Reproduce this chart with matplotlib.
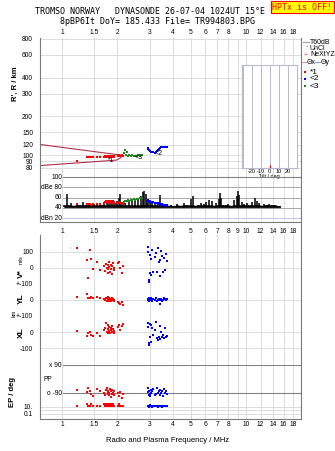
import matplotlib
matplotlib.use('Agg')
import matplotlib.pyplot as plt
from matplotlib.lines import Line2D

plt.rcParams['font.family'] = ['Liberation Sans', 'DejaVu Sans']

# ---- data ----
freq_ticks = [1, 1.5, 2, 3, 4, 5, 6, 7, 8, 9, 10, 12, 14, 16, 18]
freq_labels_outer = ['1', '1.5', '2', '3', '4', '5', '6', '7', '8', '', '10', '12', '14', '16', '18']
freq_labels_mid = ['1', '1.5', '2', '3', '4', '5', '6', '7', '8', '9', '10', '12', '14', '16', '18']
h_ticks = [80, 90, 100, 120, 150, 200, 300, 400, 600, 800]

# reference wedge in the height panel (MHz, km)
wedge_f = [0.76, 2.1, 2.1, 1.98, 0.76]
wedge_h = [121, 100, 96, 91.5, 83]

# echo 1 (red)
red_f = [1.21, 1.36, 1.38, 1.42, 1.44, 1.47, 1.55, 1.60, 1.70, 1.72, 1.74, 1.75, 1.77, 1.78, 1.79,
         1.80, 1.81, 1.83, 1.84, 1.85, 1.86, 1.88, 1.89, 1.91, 1.93, 2.02, 2.05, 2.08, 2.11, 2.14]
red_h = [90, 96, 97, 96, 97, 96, 97, 96, 97, 98, 97, 98, 97, 98, 99,
         97, 98, 96, 98, 99, 97, 98, 99, 98, 97, 99, 100, 98, 101, 99]
red_a = [47, 48, 47, 48, 46, 47, 48, 47, 50, 51, 53, 52, 54, 51, 52,
         53, 50, 51, 52, 53, 51, 50, 52, 51, 49, 50, 51, 49, 50, 48]
red_v = [125, 50, -62, 112, 56, -6, 37, -12, 10, -20, 25, 0, -31, 15, -10,
         5, 37, -25, 20, -5, 12, -37, 30, 0, -15, 31, 37, 0, -31, 12]
red_yl = [19, 37, 12, 12, 19, 12, 19, 12, 6, 0, 12, -6, 19, 0, 6,
          -6, 12, 0, 6, -6, 12, 0, 6, -6, 0, -12, -19, -25, -12, -31]
red_xl = [6, -25, -6, 0, -19, -25, -6, -25, 12, 25, 56, 0, -6, 44, 19,
          31, 6, -6, 25, 12, 0, 37, 19, -6, 6, 31, 44, 12, 37, 50]
red_pp = [-70, -85, -60, -75, -95, -110, -65, -80, -90, -100, -70, -60, -85, -95, -75,
          -105, -90, -65, -80, -115, -95, -70, -88, -100, -78, -92, -110, -85, -120, -95]
red_ep = [20, 60, 18, 20, 55, 22, 18, 15, 60, 20, 55, 15, 20, 60, 25,
          18, 55, 15, 20, 60, 20, 15, 55, 25, 18, 20, 60, 18, 15, 20]

# echo 2 (blue)
blue_f = [2.92, 2.94, 2.96, 2.98, 3.00, 3.02, 3.04, 3.06, 3.08, 3.12, 3.20, 3.25,
          3.30, 3.33, 3.36, 3.40, 3.43, 3.46, 3.50, 3.55, 3.58, 3.62, 3.66, 3.70]
blue_h = [113, 112, 110, 109, 108, 107, 106, 106, 105, 105, 104, 106,
          108, 110, 112, 113, 114, 115, 115, 116, 116, 116, 116, 116]
blue_a = [55, 54, 53, 52, 53, 52, 51, 52, 50, 51, 50, 49,
          50, 48, 49, 47, 48, 46, 47, 45, 46, 45, 44, 45]
blue_v = [131, 100, -75, -87, 81, -31, -44, 56, 112, -25, 69, 94,
          -25, 125, 37, 50, -50, 106, 75, -25, 62, -12, 88, 44]
blue_yl = [6, 0, 12, -6, 6, 0, 12, 0, -6, 6, 0, 12,
           -6, 0, 6, -25, 0, 6, -6, 0, 12, 6, 0, 6]
blue_xl = [56, 31, -69, -81, 50, -31, -62, 44, 25, -19, 12, 62,
           -37, -50, -31, 37, -45, 0, -31, -19, -37, 25, -31, -25]
blue_pp = [-60, -85, -100, -75, -95, -110, -70, -90, -80, -65, -105, -95,
           -60, -88, -75, -100, -70, -92, -80, -110, -65, -90, -78, -95]
blue_ep = [20, 15, 25, 12, 30, 18, 15, 22, 12, 20, 15, 25,
           18, 12, 20, 15, 22, 18, 12, 25, 15, 20, 18, 15]

# echo 3 (green)
green_f = [2.17, 2.20, 2.22, 2.25, 2.28, 2.32, 2.36, 2.40, 2.45, 2.50, 2.55, 2.60, 2.66, 2.72]
green_h = [104, 109, 100, 106, 98, 100, 99, 100, 99, 98, 99, 100, 98, 100]
green_a = [52, 53, 54, 53, 55, 54, 56, 55, 57, 56, 58, 57, 59, 60]

# echo labels in the height panel
label_f = [1.84, 3.35, 2.62]
label_h = [91, 103, 96]
label_txt = ['*1', '<2', '<3']

# total received amplitude (dBe)
black_f = [1.03, 1.06, 1.08, 1.12, 1.15, 1.2, 1.25, 1.3, 1.35, 1.4, 1.45, 1.5, 1.55, 1.6,
           1.65, 1.7, 1.75, 1.8, 1.85, 1.9, 1.95, 2.0, 2.05, 2.08, 2.12, 2.2, 2.3, 2.4,
           2.5, 2.6, 2.7, 2.75, 2.8, 2.85, 2.9, 2.95, 3.0, 3.1, 3.2, 3.3, 3.4, 3.5, 3.6,
           3.7, 3.8, 3.9, 4.0, 4.2, 4.4, 4.6, 4.8, 5.0, 5.15, 5.3, 5.5, 5.7, 5.9, 6.1,
           6.3, 6.5, 6.7, 6.9, 7.1, 7.2, 7.35, 7.5, 7.8, 8.0, 8.3, 8.6, 8.9, 9.05, 9.2,
           9.5, 9.8, 10.1, 10.4, 10.8, 11.2, 11.5, 11.8, 12.2, 12.6, 13.0, 13.4, 13.8,
           14.3, 14.8, 15.3]
black_a = [45, 67, 46, 50, 44, 47, 45, 52, 46, 48, 45, 47, 46, 49,
           45, 48, 50, 47, 52, 55, 50, 53, 60, 66, 52, 50, 54, 56,
           55, 58, 62, 70, 72, 66, 56, 50, 52, 48, 50, 46, 65, 50, 46,
           45, 44, 46, 43, 48, 44, 50, 46, 58, 62, 44, 45, 50, 47, 52,
           56, 54, 44, 50, 58, 68, 60, 46, 45, 47, 44, 56, 62, 72, 64,
           52, 48, 50, 45, 52, 60, 54, 50, 44, 48, 46, 47, 46,
           45, 44, 43]
noise_floor = 41
noise_top = 45

tilt_deg = [0]

# ---- layout helpers (pixel boxes) ----
W, H = 335, 451
grid_c = '#dcdcdc'
spine_c = '#7a7a7a'
f_min, f_max = 0.76, 19.9

fig = plt.figure(figsize=(W / 100, H / 100), dpi=100)


def px_axes(x0, y0, x1, y1):
    ax = fig.add_axes([x0 / W, 1 - y1 / H, (x1 - x0) / W, (y1 - y0) / H])
    ax.patch.set_alpha(0)
    for s in ax.spines.values():
        s.set_visible(False)
    return ax


def fig_line(xs, ys, **kw):
    fig.add_artist(Line2D([v / W for v in xs], [1 - v / H for v in ys], **kw))


def freq_axis(ax, labels=None, where='bottom', pad=2.0):
    ax.set_xscale('log')
    ax.set_xlim(f_min, f_max)
    ax.set_xticks(freq_ticks)
    ax.minorticks_off()
    ax.set_xticklabels(labels if labels else [''] * len(freq_ticks))
    ax.tick_params(axis='x', which='both', length=0, labelsize=4.8, pad=pad,
                   labeltop=(labels is not None and where == 'top'),
                   labelbottom=(labels is not None and where == 'bottom'))
    ax.tick_params(axis='y', which='both', length=0, labelsize=4.8, pad=5)
    ax.grid(axis='x', color=grid_c, lw=0.7)
    ax.set_axisbelow(True)


def dots(ax, f, v, c):
    ax.plot(f, v, 's', color=c, ms=1.7, mew=0, zorder=3)


# ---- height panel ----
ax_h = px_axes(40, 38, 301, 172)
ax_h.set_yscale('log')
freq_axis(ax_h, freq_labels_outer, 'top', pad=1.5)
ax_h.set_ylim(74, 810)
ax_h.set_yticks(h_ticks)
ax_h.set_yticklabels([str(t) for t in h_ticks])
ax_h.minorticks_off()
ax_h.grid(axis='y', color=grid_c, lw=0.7)
ax_h.plot(wedge_f, wedge_h, color='#b0304a', lw=0.8, zorder=2)
dots(ax_h, red_f, red_h, 'red')
dots(ax_h, green_f, green_h, '#1a8c1a')
dots(ax_h, blue_f, blue_h, 'blue')
for f, h, s in zip(label_f, label_h, label_txt):
    ax_h.text(f, h, s, fontsize=5, ha='center', va='center', color='black', zorder=4)
fig.text(15 / W, 1 - 84 / H, "R', R / km", rotation=90, fontsize=5.5,
         fontweight='bold', ha='center', va='center')

# ---- tilt inset ----
ax_t = fig.add_axes([241.7 / W, 1 - 168 / H, (297 - 241.7) / W, (168 - 65) / H])
ax_t.set_facecolor('white')
for s in ax_t.spines.values():
    s.set_color('#b8b8d0')
    s.set_linewidth(0.8)
ax_t.set_xlim(-31, 30)
ax_t.set_ylim(0, 1)
ax_t.set_xticks([-30, -20, -10, 0, 10, 20, 30])
ax_t.set_xticklabels(['', '-20', '-10', '0', '10', '20', ''])
ax_t.set_yticks([])
ax_t.tick_params(axis='x', length=0, labelsize=4, pad=1)
ax_t.grid(axis='x', color='#b8b8d0', lw=0.7)
ax_t.set_xlabel('Tilt / deg', fontsize=4, labelpad=0)
ax_t.vlines(tilt_deg, 0, 0.03, color='red', lw=1)

# ---- amplitude panel ----
ax_db = px_axes(40, 172, 301, 222)
freq_axis(ax_db, freq_labels_mid, 'bottom', pad=4.5)
ax_db.set_ylim(12.2, 109.8)
ax_db.set_yticks([])
x_in = 23 / 261
ax_db.axhline(100, xmin=x_in, color='#808080', lw=0.8)
for v in (80, 60, 40):
    ax_db.axhline(v, xmin=x_in, color='#a8a8a8', lw=0.7)
ax_db.axhline(20, xmin=x_in, color='#c4c4f0', lw=0.8)
ax_db.fill_between(black_f, noise_floor, [min(a, noise_top) for a in black_a],
                   color='black', lw=0.5, zorder=2)
ax_db.vlines(black_f, noise_floor, black_a, color='black', lw=1.1, zorder=2)
dots(ax_db, red_f, red_a, 'red')
dots(ax_db, green_f, green_a, '#1a8c1a')
dots(ax_db, blue_f, blue_a, 'blue')
ytr = ax_db.get_yaxis_transform()
for v, s in [(100, '100'), (80, 'dBe 80'), (60, '60'), (40, '40'), (20, 'dBn 20')]:
    ax_db.text(x_in - 0.004, v, s, transform=ytr, fontsize=4.8, ha='right', va='center')

# ---- drift velocity / location panels ----
ax_v = px_axes(40, 235, 301, 284)
freq_axis(ax_v)
ax_v.set_ylim(-101, 206)
ax_v.set_yticks([100, 0, -100])
ax_v.set_yticklabels(['100', '0', '+-100'])
ax_v.grid(axis='y', color=grid_c, lw=0.7)
dots(ax_v, red_f, red_v, 'red')
dots(ax_v, blue_f, blue_v, 'blue')

ax_yl = px_axes(40, 284, 301, 316)
freq_axis(ax_yl)
ax_yl.set_ylim(-101, 101)
ax_yl.set_yticks([0, -100])
ax_yl.set_yticklabels(['0', '+-100'])
ax_yl.grid(axis='y', color=grid_c, lw=0.7)
dots(ax_yl, red_f, red_yl, 'red')
dots(ax_yl, blue_f, blue_yl, 'blue')

ax_xl = px_axes(40, 316, 301, 365)
freq_axis(ax_xl)
ax_xl.set_ylim(-206, 101)
ax_xl.set_yticks([0, -100])
ax_xl.set_yticklabels(['0', '-100'])
ax_xl.grid(axis='y', color=grid_c, lw=0.7)
dots(ax_xl, red_f, red_xl, 'red')
dots(ax_xl, blue_f, blue_xl, 'blue')

fig.text(21 / W, 1 - 274 / H, 'V*', rotation=90, fontsize=6, fontweight='bold', ha='center', va='center')
fig.text(21 / W, 1 - 260 / H, 'm/s', rotation=90, fontsize=4, ha='center', va='center')
fig.text(21 / W, 1 - 299 / H, 'YL', rotation=90, fontsize=6, fontweight='bold', ha='center', va='center')
fig.text(14 / W, 1 - 313 / H, 'km', rotation=90, fontsize=4, ha='center', va='center')
fig.text(21 / W, 1 - 333 / H, 'XL', rotation=90, fontsize=6, fontweight='bold', ha='center', va='center')

# ---- polarisation panel ----
ax_pp = px_axes(40, 365, 301, 400)
freq_axis(ax_pp)
ax_pp.set_ylim(-135, 90.5)
ax_pp.set_yticks([])
ax_pp.axhline(90, xmin=x_in, color='#808080', lw=0.8)
ax_pp.axhline(-90, xmin=x_in, color='#808080', lw=0.8)
ptr = ax_pp.get_yaxis_transform()
ax_pp.text(x_in - 0.004, 90, 'x 90', transform=ptr, fontsize=4.8, ha='right', va='center')
ax_pp.text(x_in - 0.004, -90, 'o -90', transform=ptr, fontsize=4.8, ha='right', va='center')
ax_pp.text(0.012, -6, 'PP', transform=ptr, fontsize=4.8, ha='left', va='center')
dots(ax_pp, red_f, red_pp, 'red')
dots(ax_pp, blue_f, blue_pp, 'blue')

# ---- elevation panel ----
ax_ep = px_axes(40, 400, 301, 419)
ax_ep.set_yscale('log')
freq_axis(ax_ep, freq_labels_outer, 'bottom', pad=1.5)
ax_ep.set_ylim(0.0037, 1000)
ax_ep.set_yticks([10, 1, 0.1])
ax_ep.set_yticklabels(['10.', '', '0.1'])
ax_ep.minorticks_off()
ax_ep.grid(axis='y', color=grid_c, lw=0.7)
dots(ax_ep, red_f, red_ep, 'red')
dots(ax_ep, blue_f, blue_ep, 'blue')
fig.text(12 / W, 1 - 392 / H, 'EP / deg', rotation=90, fontsize=5.5,
         fontweight='bold', ha='center', va='center')

fig.text(168 / W, 1 - 441 / H, 'Radio and Plasma Frequency / MHz', fontsize=5.5,
         ha='center', va='center')

# ---- frame lines ----
fig_line([40, 40], [38, 222], color=spine_c, lw=0.8)
fig_line([40, 40], [235, 419], color=spine_c, lw=0.8)
fig_line([40, 301], [222, 222], color=spine_c, lw=0.8)
fig_line([40, 301], [419, 419], color=spine_c, lw=0.8)
fig_line([301, 301], [38, 419], color=spine_c, lw=0.8)

# ---- legend column ----
fs_leg = 5
fig_line([303, 309], [42, 42], color='#a0a0a0', lw=0.8)
fig.text(310 / W, 1 - 42 / H, 'T60dB', fontsize=fs_leg, va='center')
fig.text(306 / W, 1 - 48 / H, '·', fontsize=fs_leg, va='center', ha='center')
fig.text(310 / W, 1 - 48 / H, 'UnCl', fontsize=fs_leg, va='center')
fig.text(306 / W, 1 - 55 / H, '+', fontsize=fs_leg, va='center', ha='center', color='#e06080')
fig.text(310 / W, 1 - 55 / H, 'NeXtYZ', fontsize=fs_leg, va='center')
fig_line([302, 306], [62, 62], color='#f09090', lw=0.8)
fig.text(306.5 / W, 1 - 62 / H, 'Θx', fontsize=fs_leg, va='center')
fig_line([315, 320], [62, 62], color='#9090e0', lw=0.8)
fig.text(320.5 / W, 1 - 62 / H, 'Θy', fontsize=fs_leg, va='center')
for y, c, s in [(72, 'red', '*1'), (79, 'blue', '<2'), (86, '#1a8c1a', '<3')]:
    fig_line([304.5], [y], marker='s', color=c, ms=2, mew=0, lw=0)
    fig.text(310 / W, 1 - y / H, s, fontsize=6, va='center')

# ---- header ----
fig.text(150 / W, 1 - 12 / H, 'TROMSO NORWAY   DYNASONDE 26-07-04 1024UT 15°E',
         family='DejaVu Sans Mono', fontsize=6, ha='center', va='center')
fig.text(157 / W, 1 - 21 / H, '8pBP6It DoY= 185.433 File= TR994803.BPG',
         family='DejaVu Sans Mono', fontsize=6, ha='center', va='center')
fig.text(302.5 / W, 1 - 7 / H, 'HPTx is OFF!', family='DejaVu Sans Mono', fontsize=6,
         color='red', ha='center', va='center',
         bbox=dict(facecolor='#ffff00', edgecolor='red', lw=0.8, pad=1.2))

fig.savefig('out.png', dpi=100, facecolor='white')
